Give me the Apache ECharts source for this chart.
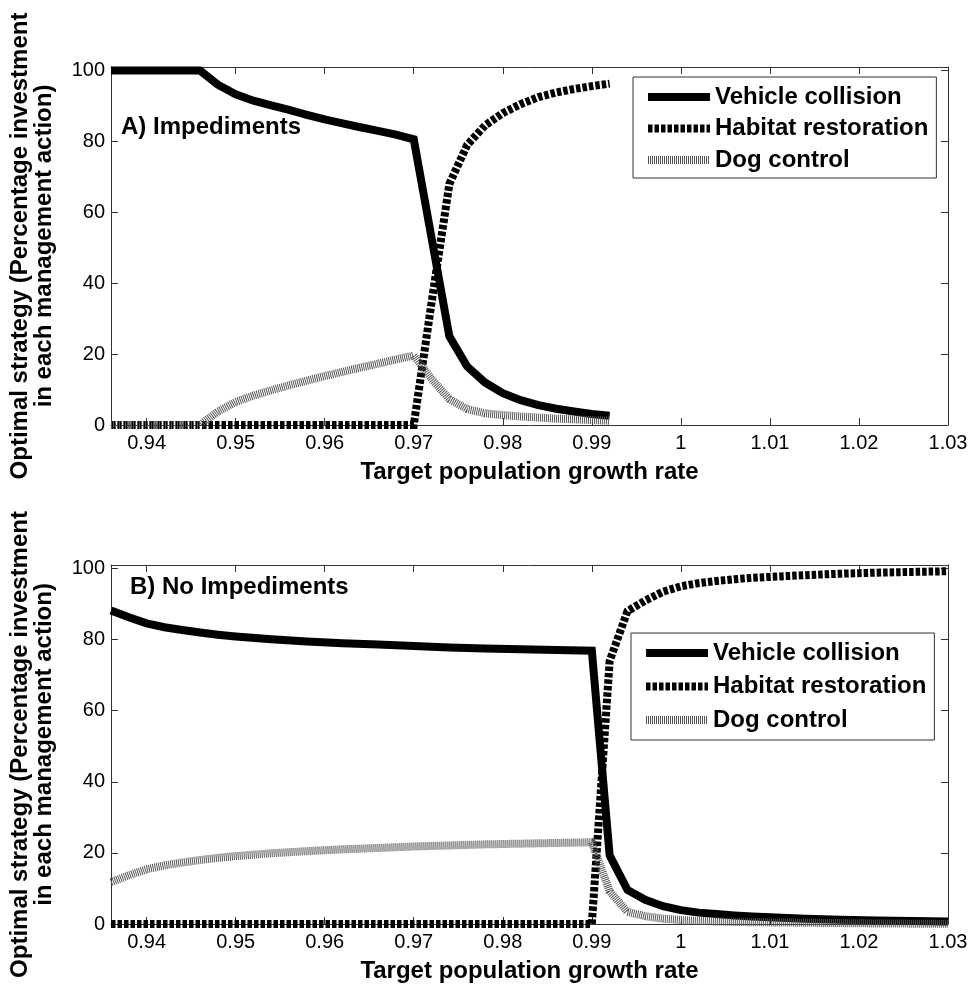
<!DOCTYPE html>
<html>
<head>
<meta charset="utf-8">
<script src="https://cdn.jsdelivr.net/npm/echarts@6/dist/echarts.min.js"></script>
<style>
html,body{margin:0;padding:0;background:#fff;}
#chart{width:971px;height:986px;}
</style>
</head>
<body>
<div id="chart"></div>
<script>
// ---------- Data ----------
const seriesNames = ['Vehicle collision', 'Habitat restoration', 'Dog control'];
const xTicks = [0.94, 0.95, 0.96, 0.97, 0.98, 0.99, 1.00, 1.01, 1.02, 1.03];
const yTicks = [0, 20, 40, 60, 80, 100];

// Panel A: Impediments
const xA = [0.936, 0.938, 0.940, 0.942, 0.944, 0.946, 0.948, 0.950, 0.952, 0.954,
            0.956, 0.958, 0.960, 0.962, 0.964, 0.966, 0.968, 0.970, 0.972, 0.974,
            0.976, 0.978, 0.980, 0.982, 0.984, 0.986, 0.988, 0.990, 0.992];
const vehicleA = [100, 100, 100, 100, 100, 100, 96.0, 93.3, 91.5, 90.2,
                  88.9, 87.5, 86.2, 85.1, 84.0, 83.0, 81.9, 80.6, 52.8, 25.0,
                  16.5, 12.0, 9.0, 7.0, 5.6, 4.6, 3.8, 3.1, 2.6];
const habitatA = [0, 0, 0, 0, 0, 0, 0, 0, 0, 0,
                  0, 0, 0, 0, 0, 0, 0, 0, 34.5, 68.0,
                  79.0, 84.5, 88.0, 90.5, 92.5, 93.8, 94.8, 95.6, 96.3];
const dogA = [0, 0, 0, 0, 0, 0, 3.8, 6.5, 8.3, 9.8,
              11.2, 12.5, 13.8, 15.0, 16.2, 17.3, 18.5, 19.6, 13.0, 7.3,
              4.5, 3.3, 2.8, 2.4, 2.1, 1.8, 1.6, 1.4, 1.2];

// Panel B: No Impediments
const xB = [0.936, 0.938, 0.940, 0.942, 0.944, 0.946, 0.948, 0.950, 0.954, 0.958,
            0.962, 0.966, 0.970, 0.974, 0.978, 0.982, 0.986, 0.990, 0.992, 0.994,
            0.996, 0.998, 1.000, 1.002, 1.004, 1.006, 1.008, 1.010, 1.014, 1.018,
            1.022, 1.026, 1.030];
const vehicleB = [88.2, 86.3, 84.6, 83.5, 82.7, 82.0, 81.4, 80.9, 80.1, 79.5,
                  79.0, 78.6, 78.2, 77.8, 77.5, 77.3, 77.1, 76.9, 19.3, 9.6,
                  6.8, 5.0, 3.9, 3.2, 2.8, 2.4, 2.1, 1.9, 1.5, 1.2,
                  1.0, 0.85, 0.7];
const habitatB = [0, 0, 0, 0, 0, 0, 0, 0, 0, 0,
                  0, 0, 0, 0, 0, 0, 0, 0, 74.0, 88.0,
                  91.0, 93.5, 95.0, 95.9, 96.5, 97.0, 97.4, 97.65, 98.15, 98.55,
                  98.85, 99.05, 99.25];
const dogB = [11.8, 13.7, 15.4, 16.5, 17.3, 18.0, 18.6, 19.1, 19.9, 20.5,
              21.0, 21.4, 21.8, 22.1, 22.4, 22.6, 22.8, 23.0, 9.2, 3.4,
              2.2, 1.5, 1.1, 0.9, 0.7, 0.6, 0.5, 0.45, 0.35, 0.25,
              0.15, 0.1, 0.05];

// ---------- Chart ----------
const FONT = '"Liberation Sans", Arial, Helvetica, sans-serif';
const AXIS_COLOR = '#333';
function pairs(xs, ys) { return xs.map((x, i) => [x, ys[i]]); }
function fmtX(v) { return String(+(+v).toFixed(2)); }

const grids = [
  { left: 111, right: 23, top: 67, bottom: 561 },
  { left: 111, right: 23, top: 565, bottom: 62 }
];

const xAxes = [], yAxes = [];
grids.forEach((g, gi) => {
  xAxes.push({
    type: 'value', gridIndex: gi, position: 'bottom', min: 0.936, max: 1.03,
    axisLine: { show: true, onZero: false, lineStyle: { color: AXIS_COLOR, width: 1 } },
    axisTick: { show: true, inside: true, length: 7, customValues: xTicks, lineStyle: { color: AXIS_COLOR } },
    axisLabel: { show: true, customValues: xTicks, formatter: fmtX, fontSize: 20, fontFamily: FONT, color: '#000', margin: 8 },
    splitLine: { show: false },
    name: 'Target population growth rate', nameLocation: 'middle', nameGap: 35,
    nameTextStyle: { fontSize: 24, fontWeight: 'bold', fontFamily: FONT, color: '#000' }
  });
  xAxes.push({
    type: 'value', gridIndex: gi, position: 'top', min: 0.936, max: 1.03,
    axisLine: { show: true, onZero: false, lineStyle: { color: AXIS_COLOR, width: 1 } },
    axisTick: { show: true, inside: true, length: 7, customValues: xTicks, lineStyle: { color: AXIS_COLOR } },
    axisLabel: { show: false },
    splitLine: { show: false }
  });
  yAxes.push({
    type: 'value', gridIndex: gi, position: 'left', min: 0, max: 101,
    axisLine: { show: true, onZero: false, lineStyle: { color: AXIS_COLOR, width: 1 } },
    axisTick: { show: true, inside: true, length: 7, customValues: yTicks, lineStyle: { color: AXIS_COLOR } },
    axisLabel: { show: true, customValues: yTicks, fontSize: 20, fontFamily: FONT, color: '#000', margin: 6 },
    splitLine: { show: false },
    name: 'Optimal strategy (Percentage investment\nin each management action)',
    nameLocation: 'middle', nameRotate: 90, nameGap: 55,
    nameTextStyle: { fontSize: 24, fontWeight: 'bold', fontFamily: FONT, color: '#000', lineHeight: 24, align: 'center' }
  });
  yAxes.push({
    type: 'value', gridIndex: gi, position: 'right', min: 0, max: 101,
    axisLine: { show: true, onZero: false, lineStyle: { color: AXIS_COLOR, width: 1 } },
    axisTick: { show: true, inside: true, length: 7, customValues: yTicks, lineStyle: { color: AXIS_COLOR } },
    axisLabel: { show: false },
    splitLine: { show: false }
  });
});

const styles = [
  { color: '#000', width: 8, type: 'solid' },
  { color: '#000', width: 8, type: [4.5, 2] },
  { color: '#555', width: 8, type: [1, 1] }
];

const panelData = [
  { xs: xA, ys: [vehicleA, habitatA, dogA], axis: 0 },
  { xs: xB, ys: [vehicleB, habitatB, dogB], axis: 2 }
];

const series = [];
panelData.forEach(p => {
  p.ys.forEach((ys, si) => {
    series.push({
      type: 'line', name: seriesNames[si],
      xAxisIndex: p.axis, yAxisIndex: p.axis,
      data: pairs(p.xs, ys),
      symbol: 'none', showSymbol: false, smooth: false, clip: true,
      color: styles[si].color,
      lineStyle: { color: styles[si].color, width: styles[si].width, type: styles[si].type, join: 'miter', cap: 'butt' },
      emphasis: { disabled: true },
      silent: true, animation: false, z: 2 + si
    });
  });
});

const legendCommon = {
  data: seriesNames, orient: 'vertical',
  itemWidth: 62, itemHeight: 14,
  borderColor: AXIS_COLOR, borderWidth: 1, backgroundColor: '#fff',
  textStyle: { fontSize: 24, fontWeight: 'bold', fontFamily: FONT, color: '#000' },
  lineStyle: { width: 'inherit', type: 'inherit', color: 'inherit' },
  itemStyle: { opacity: 0 },
  selectedMode: false
};

const option = {
  backgroundColor: '#fff',
  animation: false,
  title: [
    { text: 'A) Impediments', left: 121, top: 115, padding: 0,
      textStyle: { fontSize: 24, fontWeight: 'bold', fontFamily: FONT, color: '#000' } },
    { text: 'B) No Impediments', left: 130, top: 575, padding: 0,
      textStyle: { fontSize: 24, fontWeight: 'bold', fontFamily: FONT, color: '#000' } }
  ],
  legend: [
    Object.assign({}, legendCommon, { left: 633, top: 77, padding: [8, 8, 6, 11], itemGap: 7.5 }),
    Object.assign({}, legendCommon, { left: 631, top: 633, padding: [8, 8, 8, 11], itemGap: 9.5 })
  ],
  grid: grids,
  xAxis: xAxes,
  yAxis: yAxes,
  series: series
};

const chart = echarts.init(document.getElementById('chart'), null, { renderer: 'canvas', width: 971, height: 986 });
chart.setOption(option);
</script>
</body>
</html>
